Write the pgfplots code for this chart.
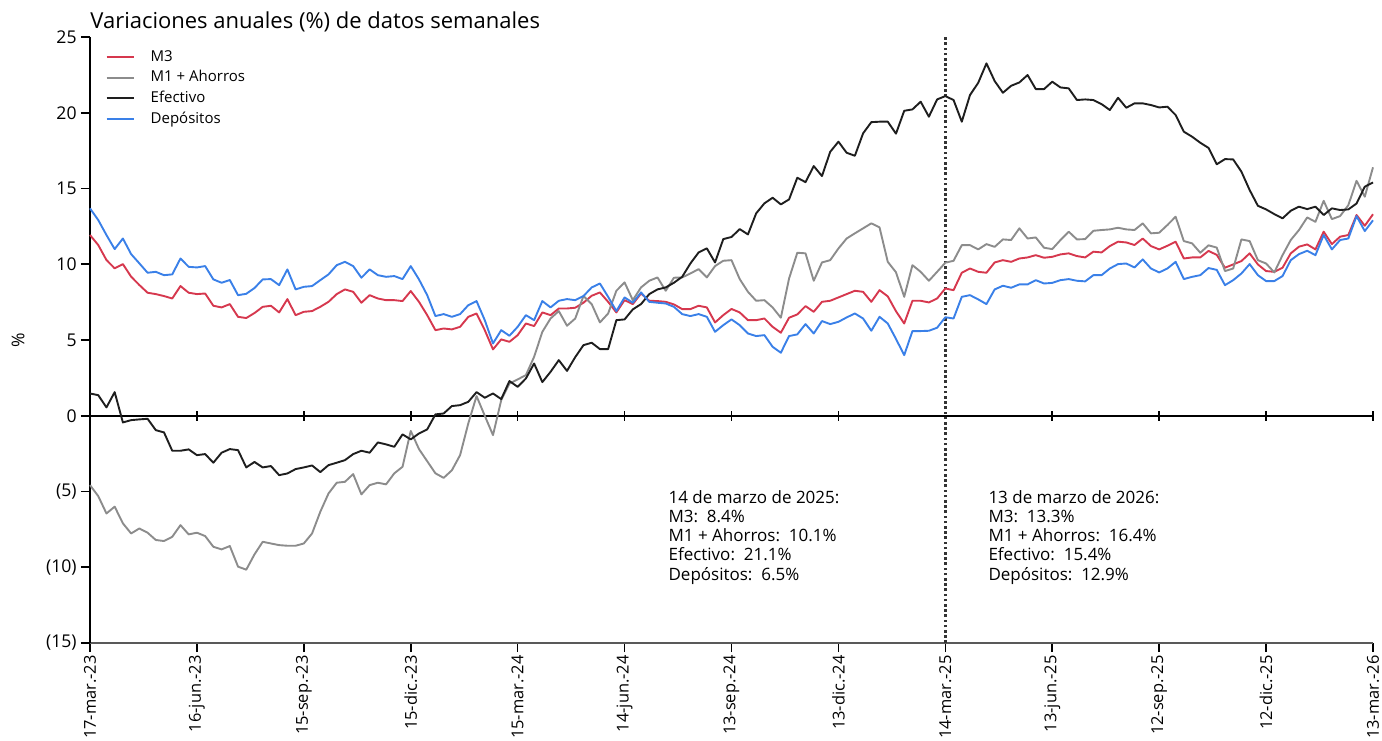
\documentclass[border=0pt]{standalone}
\usepackage{fontspec}
\setmainfont{Open Sans}
\usepackage{pgfplots}
\pgfplotsset{compat=1.18}
\usepackage{pgfplotstable}
\definecolor{cM}{RGB}{214,56,78}
\definecolor{cG}{RGB}{140,140,140}
\definecolor{cE}{RGB}{30,30,30}
\definecolor{cD}{RGB}{58,128,232}

\pgfplotstableread{
w M G E D
0 11.93 -4.58 1.47 13.69
1 11.27 -5.30 1.36 12.92
2 10.28 -6.45 0.55 11.93
3 9.73 -6.00 1.56 11.00
4 10.01 -7.10 -0.44 11.70
5 9.18 -7.77 -0.29 10.67
6 8.63 -7.44 -0.24 10.06
7 8.12 -7.72 -0.20 9.44
8 8.03 -8.20 -0.95 9.50
9 7.90 -8.27 -1.10 9.28
10 7.74 -7.99 -2.31 9.33
11 8.56 -7.22 -2.31 10.38
12 8.12 -7.83 -2.22 9.83
13 8.03 -7.72 -2.60 9.79
14 8.07 -7.94 -2.53 9.88
15 7.26 -8.65 -3.10 9.00
16 7.15 -8.82 -2.44 8.78
17 7.37 -8.60 -2.20 8.96
18 6.53 -9.96 -2.27 7.96
19 6.45 -10.16 -3.41 8.05
20 6.78 -9.15 -3.05 8.43
21 7.19 -8.32 -3.41 9.00
22 7.26 -8.43 -3.32 9.02
23 6.82 -8.54 -3.92 8.62
24 7.70 -8.58 -3.81 9.66
25 6.64 -8.58 -3.52 8.34
26 6.86 -8.43 -3.41 8.51
27 6.91 -7.77 -3.28 8.56
28 7.19 -6.34 -3.72 8.95
29 7.52 -5.13 -3.26 9.33
30 8.03 -4.42 -3.10 9.94
31 8.34 -4.36 -2.93 10.16
32 8.18 -3.85 -2.53 9.88
33 7.46 -5.19 -2.31 9.11
34 7.96 -4.58 -2.44 9.66
35 7.74 -4.42 -1.76 9.28
36 7.63 -4.53 -1.89 9.17
37 7.63 -3.80 -2.05 9.22
38 7.57 -3.37 -1.23 9.02
39 8.23 -1.00 -1.56 9.88
40 7.52 -2.20 -1.17 9.00
41 6.64 -3.00 -0.90 7.96
42 5.65 -3.80 0.09 6.58
43 5.76 -4.10 0.15 6.71
44 5.70 -3.60 0.64 6.53
45 5.87 -2.60 0.70 6.71
46 6.53 -0.50 0.92 7.30
47 6.75 1.30 1.56 7.57
48 5.65 0.00 1.19 6.31
49 4.38 -1.28 1.47 4.77
50 5.04 1.03 1.10 5.65
51 4.88 2.13 2.29 5.28
52 5.32 2.40 1.91 5.87
53 6.09 2.68 2.46 6.64
54 5.92 3.89 3.45 6.31
55 6.82 5.54 2.22 7.57
56 6.64 6.42 2.90 7.15
57 7.08 6.91 3.67 7.59
58 7.08 5.94 2.96 7.70
59 7.13 6.42 3.87 7.63
60 7.46 7.90 4.66 7.90
61 7.92 7.37 4.82 8.47
62 8.14 6.16 4.40 8.73
63 7.52 6.75 4.40 7.85
64 6.82 8.25 6.31 6.91
65 7.63 8.80 6.36 7.81
66 7.37 7.63 7.02 7.46
67 8.07 8.47 7.37 8.14
68 7.59 8.91 8.03 7.52
69 7.57 9.13 8.34 7.46
70 7.52 8.25 8.47 7.41
71 7.35 9.11 8.78 7.19
72 7.04 9.13 9.17 6.71
73 7.04 9.39 10.05 6.58
74 7.26 9.68 10.78 6.71
75 7.15 9.13 11.05 6.53
76 6.16 9.88 10.12 5.54
77 6.64 10.23 11.66 5.98
78 7.05 10.27 11.80 6.36
79 6.82 9.02 12.32 5.98
80 6.31 8.18 11.97 5.43
81 6.31 7.59 13.36 5.26
82 6.42 7.63 14.02 5.32
83 5.87 7.15 14.39 4.55
84 5.48 6.47 13.95 4.16
85 6.47 9.06 14.28 5.26
86 6.69 10.76 15.71 5.37
87 7.24 10.72 15.42 6.05
88 6.86 8.91 16.48 5.43
89 7.52 10.12 15.82 6.25
90 7.59 10.27 17.42 6.05
91 7.81 11.04 18.09 6.20
92 8.03 11.70 17.36 6.49
93 8.25 12.04 17.16 6.75
94 8.18 12.37 18.64 6.42
95 7.52 12.70 19.38 5.61
96 8.29 12.43 19.41 6.53
97 7.88 10.16 19.41 6.09
98 6.90 9.47 18.62 5.07
99 6.09 7.85 20.13 4.00
100 7.59 9.94 20.22 5.59
101 7.59 9.50 20.73 5.59
102 7.48 8.91 19.74 5.61
103 7.74 9.50 20.88 5.81
104 8.40 10.10 21.10 6.50
105 8.29 10.23 20.84 6.42
106 9.44 11.26 19.41 7.85
107 9.72 11.26 21.17 7.96
108 9.50 10.98 21.98 7.68
109 9.44 11.33 23.26 7.37
110 10.12 11.15 22.09 8.34
111 10.27 11.64 21.32 8.58
112 10.16 11.60 21.78 8.45
113 10.38 12.37 22.00 8.67
114 10.45 11.70 22.49 8.67
115 10.60 11.77 21.56 8.95
116 10.43 11.09 21.56 8.73
117 10.49 11.00 22.05 8.77
118 10.65 11.60 21.67 8.95
119 10.72 12.15 21.61 9.02
120 10.54 11.64 20.84 8.91
121 10.45 11.66 20.88 8.87
122 10.83 12.21 20.84 9.28
123 10.78 12.26 20.57 9.28
124 11.20 12.30 20.18 9.72
125 11.49 12.41 20.99 10.01
126 11.44 12.30 20.33 10.05
127 11.27 12.26 20.62 9.79
128 11.70 12.70 20.62 10.32
129 11.20 12.04 20.51 9.72
130 10.98 12.08 20.35 9.46
131 11.22 12.59 20.40 9.72
132 11.49 13.14 19.85 10.16
133 10.38 11.53 18.75 9.02
134 10.45 11.38 18.42 9.17
135 10.45 10.76 18.02 9.28
136 10.88 11.25 17.68 9.75
137 10.62 11.10 16.60 9.63
138 9.77 9.55 16.94 8.62
139 9.99 9.72 16.92 8.95
140 10.21 11.64 16.11 9.39
141 10.72 11.53 14.90 10.01
142 9.99 10.27 13.86 9.28
143 9.55 10.05 13.62 8.89
144 9.50 9.46 13.31 8.89
145 9.77 10.60 13.03 9.22
146 10.72 11.60 13.53 10.27
147 11.16 12.26 13.80 10.67
148 11.31 13.09 13.64 10.89
149 10.98 12.80 13.80 10.60
150 12.15 14.19 13.25 11.93
151 11.33 12.98 13.69 10.98
152 11.82 13.18 13.58 11.60
153 11.93 13.90 13.62 11.70
154 13.25 15.51 14.01 13.18
155 12.54 14.46 15.12 12.19
156 13.30 16.40 15.40 12.90
}\data

\begin{document}
\begin{tikzpicture}
\begin{axis}[
  at={(0,0)}, anchor=south west,
  scale only axis, width=641.5pt, height=303pt,
  xmin=0, xmax=156, ymin=-15, ymax=25,
  axis x line*=bottom, axis y line*=left,
  x axis line style={draw=black!65, line width=1.1pt},
  y axis line style={draw=black, line width=0.9pt},
  tick align=outside, major tick length=4.5pt,
  tick style={black, line width=0.8pt},
  xtick={0,13,26,39,52,65,78,91,104,117,130,143,156},
  xticklabels={17-mar.-23,16-jun.-23,15-sep.-23,15-dic.-23,15-mar.-24,14-jun.-24,13-sep.-24,13-dic.-24,14-mar.-25,13-jun.-25,12-sep.-25,12-dic.-25,13-mar.-26},
  xticklabel style={rotate=90, anchor=east, font=\fontsize{8.2}{9}\selectfont, inner sep=1.5pt},
  ytick={-15,-10,-5,0,5,10,15,20,25},
  yticklabels={(15),(10),(5),0,5,10,15,20,25},
  yticklabel style={font=\fontsize{8.8}{10}\selectfont, inner sep=2pt},
  legend style={at={(axis description cs:0.012,0.985)}, anchor=north west,
    draw=none, fill=none, font=\fontsize{7.5}{9}\selectfont,
    row sep=-0.9pt, inner sep=0pt, legend cell align=left,
    /tikz/every odd column/.append style={column sep=6pt}},
  legend image code/.code={\draw[#1] (0pt,0pt) -- (13.5pt,0pt);},
  every axis plot/.append style={line width=0.95pt, line join=round},
  clip=false,
]
\draw[black, line width=0.8pt] (axis cs:0,0) -- (axis cs:156,0);
\pgfplotsinvokeforeach{13,26,39,52,65,78,91,117,130,143,156}{
  \draw[black, line width=0.8pt] ([yshift=-2.5pt]axis cs:#1,0) -- ([yshift=2.5pt]axis cs:#1,0);
}
\draw[black!80, line width=1.3pt, dash pattern=on 1.3pt off 1.3pt] (axis cs:104,-15) -- (axis cs:104,25);

\addplot[cM] table[x=w, y=M] {\data};
\addlegendentry{M3}
\addplot[cG] table[x=w, y=G] {\data};
\addlegendentry{M1 + Ahorros}
\addplot[cE] table[x=w, y=E] {\data};
\addlegendentry{Efectivo}
\addplot[cD] table[x=w, y=D] {\data};
\addlegendentry{Depósitos}

\node[anchor=north west, align=left, inner sep=0pt, font=\fontsize{8.5}{9.6}\selectfont] at (axis cs:70.3,-4.9)
 {14 de marzo de 2025:\\M3:\ \ 8.4\%\\M1 + Ahorros:\ \ 10.1\%\\Efectivo:\ \ 21.1\%\\Depósitos:\ \ 6.5\%};
\node[anchor=north west, align=left, inner sep=0pt, font=\fontsize{8.5}{9.6}\selectfont] at (axis cs:109.2,-4.9)
 {13 de marzo de 2026:\\M3:\ \ 13.3\%\\M1 + Ahorros:\ \ 16.4\%\\Efectivo:\ \ 15.4\%\\Depósitos:\ \ 12.9\%};
\node[rotate=90, font=\fontsize{8.8}{10}\selectfont] at (axis description cs:-0.056,0.5) {\%};
\end{axis}
\node[anchor=base west, inner sep=0pt, font=\fontsize{11}{13}\selectfont] at (0pt,307pt) {Variaciones anuales (\%) de datos semanales};
\pgfresetboundingbox
\path (-45pt,-48.5pt) rectangle (646pt,321.5pt);
\end{tikzpicture}
\end{document}
